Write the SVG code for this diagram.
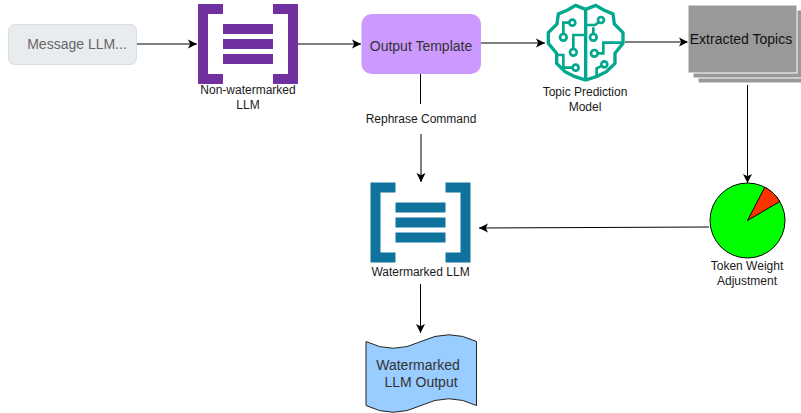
<svg xmlns="http://www.w3.org/2000/svg" width="801" height="413" viewBox="0 0 801 413">
<style>
text{font-family:"Liberation Sans",Arial,sans-serif;text-anchor:middle}
.lbl{font-size:12px;fill:#1a1a1a}
.big{font-size:14px;fill:#333}
.c{fill:none;stroke:#000;stroke-width:1;marker-end:url(#a)}
.l{fill:none;stroke:#000;stroke-width:1}
.b{fill:none;stroke:#01a88d;stroke-width:10;stroke-linejoin:miter}
</style>
<defs>
<marker id="a" markerUnits="userSpaceOnUse" markerWidth="11" markerHeight="11" refX="9" refY="5.500" orient="auto"><path d="M0 1L9 5.500L0 10L2.200 5.500Z" fill="#000"/></marker>
<g id="br"><path d="M0 0H25V10H10V70H25V80H0ZM100 0H75V10H90V70H75V80H100ZM25 20H75V30H25ZM25 35H75V45H25ZM25 50H75V60H25Z"/></g>
</defs>
<rect width="801" height="413" fill="#fff"/>
<g id="connectors">
<path class="c" d="M137 44H197"/>
<path class="c" d="M298 44H361"/>
<path class="c" d="M481 43H545"/>
<path class="c" d="M625 42H688"/>
<path class="l" d="M420.500 74V104"/>
<path class="c" d="M421 134V182"/>
<path class="c" d="M747.500 85V183"/>
<path class="c" d="M709 227L479 228"/>
<path class="c" d="M420.500 284V333"/>
</g>
<text class="lbl" x="421" y="123">Rephrase Command</text>
<g id="message"><rect x="8.500" y="24.500" width="128" height="40" rx="6" fill="#e9ecef" stroke="#d9dee3"/><text x="77" y="49" font-size="14" fill="#666">Message LLM...</text></g>
<g id="non-watermarked"><use href="#br" x="198" y="4" fill="#7030a0"/><text class="lbl" x="248" y="94">Non-watermarked</text><text class="lbl" x="248" y="109">LLM</text></g>
<g id="template"><rect x="361.500" y="14" width="119.500" height="60" rx="10" fill="#cc99ff"/><text class="big" x="421" y="51">Output Template</text></g>
<g id="topic-model"><g transform="translate(535 0) scale(.3333)">
<path class="b" d="M152 240V28L122 16L98 30L70 42L66 72L40 98V130L65 160V190L90 215L120 230L152 240L184 230L214 215L240 190V160L264 130V98L238 72L234 42L206 30L182 16L152 28"/>
<path class="b" d="M104 68H85V102M115 147V105H152M152 75H180L192 66M175 102V82M188 160H205V128H264M115 203H85V165H65M185 232V205L202 197" style="stroke-width:8"/>
<g fill="none" stroke="#01a88d" stroke-width="8"><circle cx="112" cy="68" r="9"/><circle cx="85" cy="112" r="10"/><circle cx="115" cy="157" r="10"/><circle cx="122" cy="203" r="9"/><circle cx="198" cy="60" r="9"/><circle cx="175" cy="112" r="10"/><circle cx="178" cy="160" r="10"/><circle cx="208" cy="193" r="9"/></g>
</g><text class="lbl" x="585" y="96">Topic Prediction</text><text class="lbl" x="585" y="111">Model</text></g>
<g id="topics" fill="#999" stroke="#fff"><rect x="698" y="15" width="109" height="68"/><rect x="693" y="10" width="109" height="68"/><rect x="688" y="5" width="109" height="68"/><text x="741" y="44" font-size="14" fill="#111" stroke="none">Extracted Topics</text></g>
<g id="token-weight"><circle cx="747.500" cy="220.500" r="37.500" fill="#00ff00" stroke="#000"/><path d="M747.500 220.500L764.800 187.200A37.500 37.500 0 0 1 779.800 201.500Z" fill="#ff3300" stroke="#000"/><text class="lbl" x="747" y="270">Token Weight</text><text class="lbl" x="747" y="285">Adjustment</text></g>
<g id="watermarked"><use href="#br" x="370.500" y="182.500" fill="#10739e"/><text class="lbl" x="420.500" y="276">Watermarked LLM</text></g>
<g id="output"><path d="M366 341.500Q393 355 421 341.500T476.500 341.500V405.500Q449 392 421 405.500T366 405.500Z" fill="#99ccff" stroke="#222"/><text class="big" x="418" y="370">Watermarked</text><text class="big" x="421" y="387">LLM Output</text></g>
</svg>
